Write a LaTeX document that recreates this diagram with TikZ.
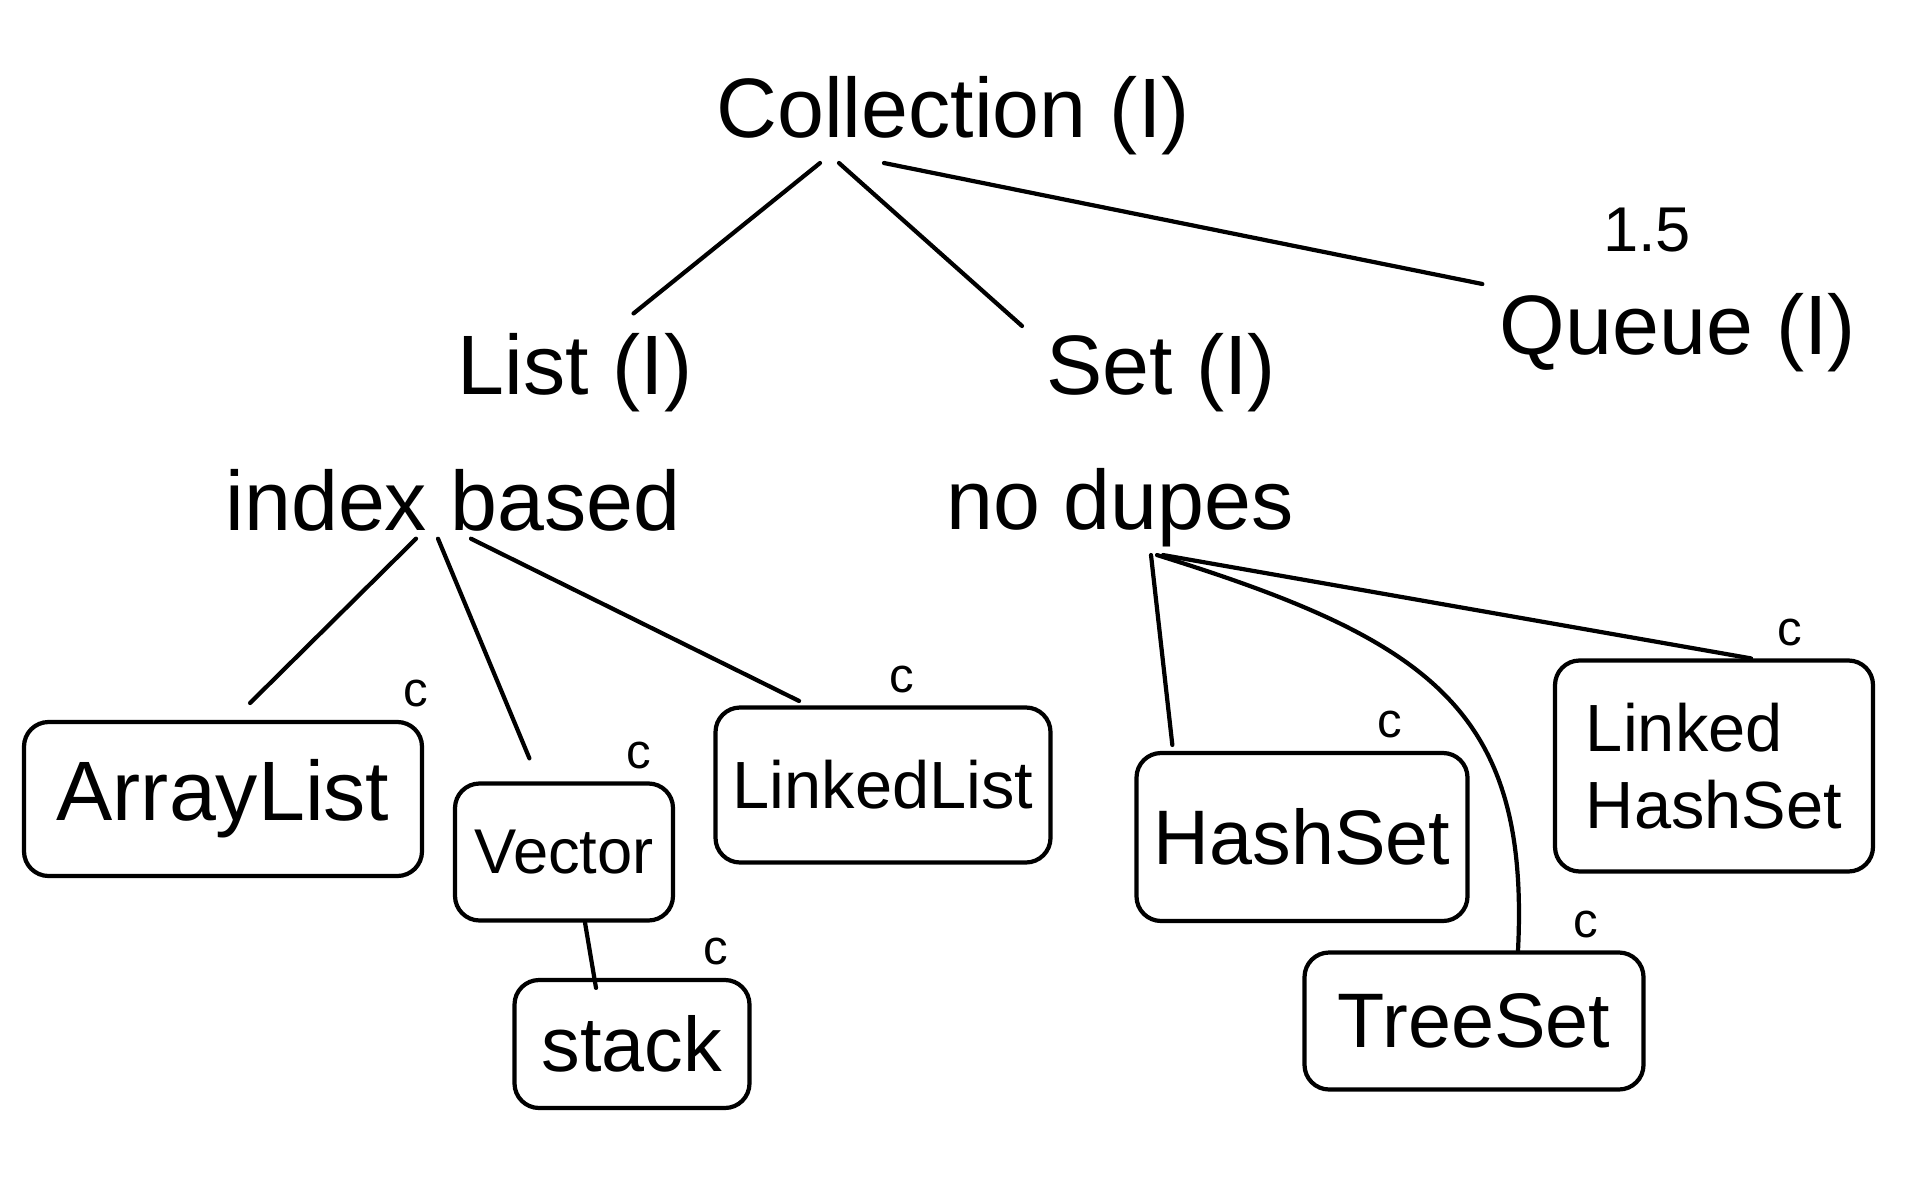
\documentclass[tikz,border=0pt]{standalone}
\usepackage{fontspec}
\setmainfont{Liberation Sans}
\usetikzlibrary{positioning, calc}

\begin{document}
\begin{tikzpicture}[
    every node/.style={inner sep=2pt},
    lbl/.style={font=\fontsize{24}{28}\selectfont},
    cls/.style={draw, rounded corners=7pt, line width=1.2pt, align=center},
    ctag/.style={font=\fontsize{14}{16}\selectfont, inner sep=0pt},
    link/.style={line width=1.2pt, line cap=round},
]
\useasboundingbox (0,0) rectangle (19.2,12);
% ----- the interfaces
\node[lbl] (coll) at (9.53,10.84) {Collection (I)};
\node[lbl] (list) at (5.75,8.27) {List (I)};
\node[lbl] (listnote) at (4.53,7.00) {index based};
\node[lbl] (set) at (11.61,8.27) {Set (I)};
\node[lbl] (setnote) at (11.20,6.92) {no dupes};
\node[lbl] (queue) at (16.78,8.67) {Queue (I)};
\node[font=\fontsize{18}{20}\selectfont] (ver) at (16.47,9.70) {1.5};
\draw[link, shorten >=0.2cm] ([xshift=-1.33cm]coll.south) -- ([xshift=0.43cm]list.north);
\draw[link] ([xshift=-1.14cm]coll.south) -- ([xshift=-1.39cm]set.north);
\draw[link, shorten >=0.1cm] ([xshift=-0.69cm]coll.south) -- (queue.north west);
% ----- the classes under List
\node[cls, lbl, minimum width=3.98cm, minimum height=1.54cm] (alist) at (2.23,4.01) {ArrayList};
\node[cls, font=\fontsize{18}{20}\selectfont, minimum width=2.18cm, minimum height=1.37cm] (vec) at (5.64,3.48) {Vector};
\node[cls, font=\fontsize{22}{24}\selectfont, minimum width=2.35cm, minimum height=1.28cm] (stk) at (6.32,1.56) {stack};
\node[cls, font=\fontsize{19}{22}\selectfont, minimum width=3.35cm, minimum height=1.55cm] (llist) at (8.83,4.15) {LinkedList};
\draw[link, shorten >=0.24cm] ([xshift=-0.37cm]listnote.south) -- ([xshift=0.10cm]alist.north);
\draw[link, shorten >=0.25cm] ([xshift=-0.15cm]listnote.south) -- ([xshift=-0.25cm]vec.north);
\draw[link, shorten >=0.1cm] ([xshift=0.18cm]listnote.south) -- ([xshift=-0.75cm]llist.north);
\draw[link] ([xshift=0.21cm]vec.south) -- ([xshift=-0.36cm, yshift=-0.1cm]stk.north);
% ----- the classes under Set
\node[cls, font=\fontsize{22}{24}\selectfont, minimum width=3.31cm, minimum height=1.68cm] (hset) at (13.02,3.63) {HashSet};
\node[cls, font=\fontsize{19}{22}\selectfont, align=left, minimum width=3.18cm, minimum height=2.11cm] (lhset) at (17.14,4.34) {Linked\\HashSet};
\node[cls, font=\fontsize{22}{24}\selectfont, minimum width=3.39cm, minimum height=1.37cm] (tset) at (14.74,1.79) {TreeSet};
\draw[link, shorten >=0.06cm] ([xshift=0.31cm]setnote.south) -- ([xshift=-1.29cm]hset.north);
\draw[link] ([xshift=0.37cm]setnote.south) .. controls (14.3,5.6) and (15.3,4.9) .. ([xshift=0.44cm]tset.north);
\draw[link] ([xshift=0.43cm]setnote.south) -- ([xshift=0.37cm]lhset.north);
% ----- the c marks
\foreach \b/\dx in {alist/-0.08, vec/-0.36, stk/-0.36, llist/-1.51, hset/-0.80, lhset/-0.85, tset/-0.60}
  \node[ctag] (c-\b) at ([xshift=\dx cm, yshift=0.26cm]\b.north east) {c};
\end{tikzpicture}
\end{document}
